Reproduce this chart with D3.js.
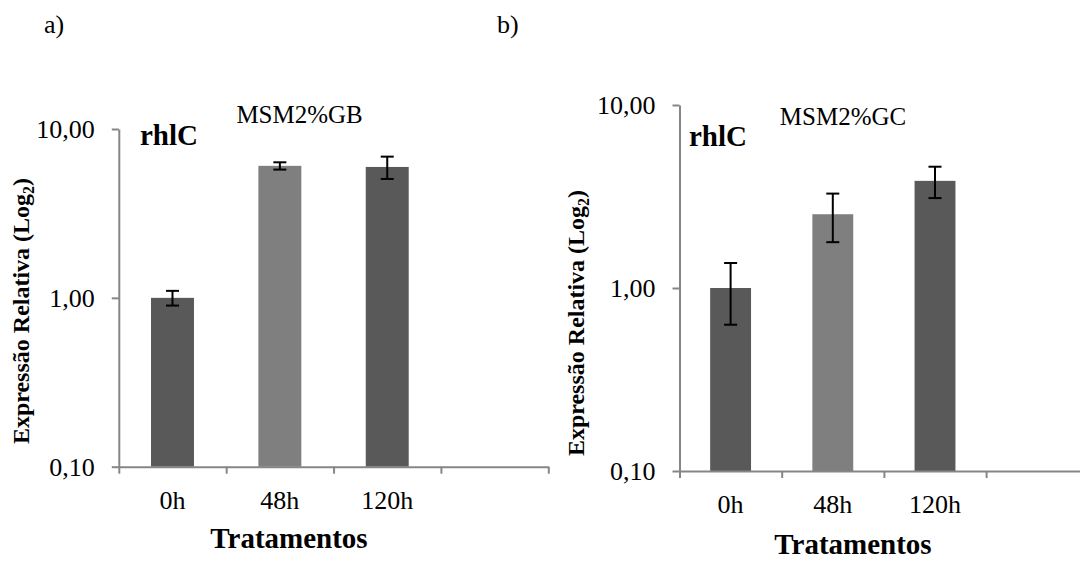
<!DOCTYPE html>
<html>
<head>
<meta charset="utf-8">
<script src="https://cdn.jsdelivr.net/npm/d3@7"></script>
<style>
  html, body { margin: 0; padding: 0; background: #fff; }
  svg { display: block; }
  text { font-family: "Liberation Serif", "Times New Roman", serif; fill: #000; }
</style>
</head>
<body>
<svg id="chart" width="1080" height="561"></svg>
<script>
// ---------- data ----------
const categories = ["0h", "48h", "120h"];
const emptySlot = "";
const valuesA = [1.00, 6.05, 5.96];
const errorsA = [0.10, 0.30, 0.90];
const valuesB = [1.00, 2.53, 3.85];
const errorsB = [0.37, 0.75, 0.75];
const barColors = ["#595959", "#7f7f7f", "#595959"];
const yTickValues = [0.1, 1, 10];
const yTickLabels = ["0,10", "1,00", "10,00"];
const panelLabels = ["a)", "b)"];
const panelTitles = ["MSM2%GB", "MSM2%GC"];
const geneLabel = "rhlC";
const xTitle = "Tratamentos";
const yTitleMain = "Expressão Relativa (Log";
const yTitleSub = "2";
const yTitleEnd = ")";

// ---------- layout ----------
const serif = "'Liberation Serif', 'Times New Roman', serif";
const panels = [
  { values: valuesA, errors: errorsA, x0: 118.8, x1: 548.3, yTop: 129, yBot: 466.7,
    lab: [44, 33], title: [299.6, 122.7], gene: [140, 145], xt: [289, 548], yt: [28.5, 311] },
  { values: valuesB, errors: errorsB, x0: 679.5, x1: 1088.3, yTop: 105, yBot: 471,
    lab: [497, 33], title: [843, 125], gene: [689, 146], xt: [853, 554], yt: [584, 323] }
];

const svg = d3.select("#chart");
const axisColor = "#868686";

panels.forEach((p, i) => {
  const g = svg.append("g");
  const slots = categories.concat([emptySlot]);
  const x = d3.scaleBand().domain(slots).range([p.x0, p.x1]).paddingInner(0.6).paddingOuter(0.3);
  const xb = d3.scaleLinear().domain([0, slots.length]).range([p.x0, p.x1]);
  const y = d3.scaleLog().domain([0.1, 10]).range([p.yBot, p.yTop]);

  // bars
  g.selectAll("rect.bar").data(p.values).join("rect")
    .attr("class", "bar")
    .attr("x", (d, j) => x(categories[j]))
    .attr("width", x.bandwidth())
    .attr("y", d => y(d))
    .attr("height", d => y(0.1) - y(d))
    .attr("fill", (d, j) => barColors[j]);

  // y axis
  const yAxis = d3.axisLeft(y).tickValues(yTickValues)
    .tickFormat((d, j) => yTickLabels[j]).tickSize(7).tickSizeOuter(0).tickPadding(17);
  const ya = g.append("g").attr("transform", `translate(${p.x0},0)`).call(yAxis);
  ya.attr("font-family", null).attr("font-size", null);
  ya.select(".domain").attr("stroke", axisColor).attr("stroke-width", 2);
  ya.selectAll(".tick line").attr("stroke", axisColor).attr("stroke-width", 2);
  ya.selectAll(".tick text").style("font-family", serif).style("font-size", "26px").attr("fill", "#000");

  // x axis
  const xAxis = d3.axisBottom(xb).tickValues(d3.range(slots.length + 1))
    .tickFormat("").tickSize(7).tickSizeOuter(0);
  const xa = g.append("g").attr("transform", `translate(0,${p.yBot})`).call(xAxis);
  xa.select(".domain").attr("stroke", axisColor).attr("stroke-width", 2);
  xa.selectAll(".tick line").attr("stroke", axisColor).attr("stroke-width", 2);

  // category labels
  g.selectAll("text.cat").data(categories).join("text")
    .attr("class", "cat")
    .attr("x", d => x(d) + x.bandwidth() / 2)
    .attr("y", p.yBot + 42)
    .attr("text-anchor", "middle")
    .style("font-family", serif).style("font-size", "26px")
    .text(d => d);

  // error bars
  const cap = 6.5;
  const eb = g.selectAll("g.err").data(p.values).join("g").attr("class", "err");
  eb.append("line")
    .attr("x1", (d, j) => x(categories[j]) + x.bandwidth() / 2)
    .attr("x2", (d, j) => x(categories[j]) + x.bandwidth() / 2)
    .attr("y1", (d, j) => y(d + p.errors[j]))
    .attr("y2", (d, j) => y(d - p.errors[j]));
  eb.append("line")
    .attr("x1", (d, j) => x(categories[j]) + x.bandwidth() / 2 - cap)
    .attr("x2", (d, j) => x(categories[j]) + x.bandwidth() / 2 + cap)
    .attr("y1", (d, j) => y(d + p.errors[j]))
    .attr("y2", (d, j) => y(d + p.errors[j]));
  eb.append("line")
    .attr("x1", (d, j) => x(categories[j]) + x.bandwidth() / 2 - cap)
    .attr("x2", (d, j) => x(categories[j]) + x.bandwidth() / 2 + cap)
    .attr("y1", (d, j) => y(d - p.errors[j]))
    .attr("y2", (d, j) => y(d - p.errors[j]));
  eb.selectAll("line").attr("stroke", "#000").attr("stroke-width", 2);

  // texts
  svg.append("text").attr("x", p.lab[0]).attr("y", p.lab[1])
    .style("font-family", serif).style("font-size", "26px").text(panelLabels[i]);
  svg.append("text").attr("x", p.title[0]).attr("y", p.title[1]).attr("text-anchor", "middle")
    .style("font-family", serif).style("font-size", "25px").text(panelTitles[i]);
  svg.append("text").attr("x", p.gene[0]).attr("y", p.gene[1])
    .style("font-family", serif).style("font-size", "29px").style("font-weight", "bold").text(geneLabel);
  svg.append("text").attr("x", p.xt[0]).attr("y", p.xt[1]).attr("text-anchor", "middle")
    .style("font-family", serif).style("font-size", "29px").style("font-weight", "bold").text(xTitle);
  const yt = svg.append("text")
    .attr("transform", `translate(${p.yt[0]},${p.yt[1]}) rotate(-90)`)
    .attr("text-anchor", "middle")
    .style("font-family", serif).style("font-size", "24px").style("font-weight", "bold");
  yt.append("tspan").text(yTitleMain);
  yt.append("tspan").style("font-size", "16px").attr("dy", 5).text(yTitleSub);
  yt.append("tspan").attr("dy", -5).text(yTitleEnd);
});
</script>
</body>
</html>
